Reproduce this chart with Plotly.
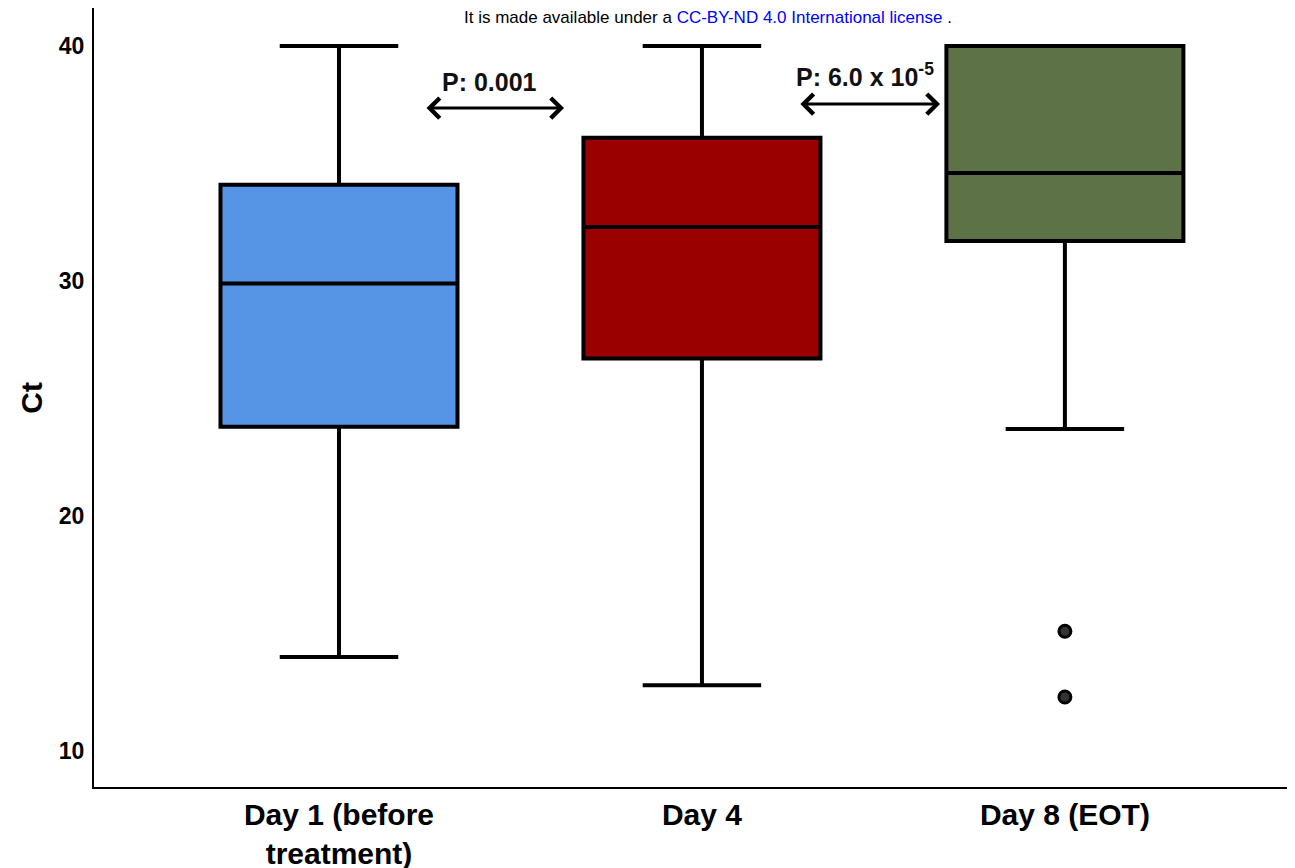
import plotly.graph_objects as go

# values (Ct)
categories = ["Day 1 (before<br>treatment)", "Day 4", "Day 8 (EOT)"]
q1 = [23.8, 26.7, 31.7]
median = [29.9, 32.3, 34.6]
q3 = [34.1, 36.1, 40.0]
lower_whisker = [14.0, 12.8, 23.7]
upper_whisker = [40.0, 40.0, 40.0]
box_colors = ["#5694E6", "#9B0000", "#5E7247"]

outlier_cat = ["Day 8 (EOT)", "Day 8 (EOT)"]
outlier_y = [15.1, 12.3]

y_ticks = [10, 20, 30, 40]

FONT = "Liberation Sans, Arial, sans-serif"

fig = go.Figure()

for i, cat in enumerate(categories):
    fig.add_trace(go.Box(
        x=[cat], q1=[q1[i]], median=[median[i]], q3=[q3[i]],
        lowerfence=[lower_whisker[i]], upperfence=[upper_whisker[i]],
        fillcolor=box_colors[i], line=dict(color="black", width=4),
        width=0.653, whiskerwidth=0.5, boxpoints=False,
        showlegend=False, hoverinfo="skip"))

fig.add_trace(go.Scatter(
    x=outlier_cat, y=outlier_y, mode="markers",
    marker=dict(symbol="circle", size=12, color="#333333", line=dict(color="black", width=3)),
    showlegend=False, hoverinfo="skip"))

# p-value arrows (double headed) and labels
arrows = [
    dict(x0=0.237, x1=0.620, y=37.36, label="P: 0.001", lx=0.416, ly=38.47),
    dict(x0=1.267, x1=1.656, y=37.53, label="P: 6.0 x 10<sup>-5</sup>", lx=1.449, ly=38.77),
]
annotations = []
for a in arrows:
    annotations.append(dict(
        x=a["x1"], y=a["y"], ax=a["x0"], ay=a["y"], xref="x", yref="y", axref="x", ayref="y",
        text="", showarrow=True, arrowhead=4, startarrowhead=4, arrowside="end+start",
        arrowwidth=3, arrowsize=1.3, startarrowsize=1.3, arrowcolor="black"))
    annotations.append(dict(
        x=a["lx"], y=a["ly"], xref="x", yref="y", text="<b>" + a["label"] + "</b>",
        showarrow=False, font=dict(family=FONT, size=25, color="#111111"),
        xanchor="center", yanchor="middle"))

annotations.append(dict(
    x=-0.052, y=0.50, xref="paper", yref="paper", text="<b>Ct</b>", textangle=-90,
    showarrow=False, font=dict(family=FONT, size=30, color="black"),
    xanchor="center", yanchor="middle"))

annotations.append(dict(
    x=0.508, y=0.988, xref="paper", yref="paper",
    text="It is made available under a <span style='color:#0000FF'>CC-BY-ND 4.0 International license</span> .",
    showarrow=False, font=dict(family=FONT, size=17, color="black"),
    xanchor="center", yanchor="middle"))

fig.update_layout(
    width=1295, height=868,
    margin=dict(l=86, r=0, t=0, b=89),
    paper_bgcolor="white", plot_bgcolor="white",
    boxmode="overlay",
    annotations=annotations,
    xaxis=dict(
        range=[-0.675, 2.656], showgrid=False, zeroline=False,
        showline=True, linecolor="black", linewidth=2, ticks="",
        ticklabelstandoff=0,
        tickfont=dict(family=FONT, size=30, color="black", weight="bold")),
    yaxis=dict(
        range=[8.47, 41.62], tickvals=y_ticks, showgrid=False, zeroline=False,
        showline=True, linecolor="black", linewidth=2, ticks="",
        ticklabelstandoff=3,
        tickfont=dict(family=FONT, size=23, color="black", weight="bold")),
)

fig.write_html("out.html")
